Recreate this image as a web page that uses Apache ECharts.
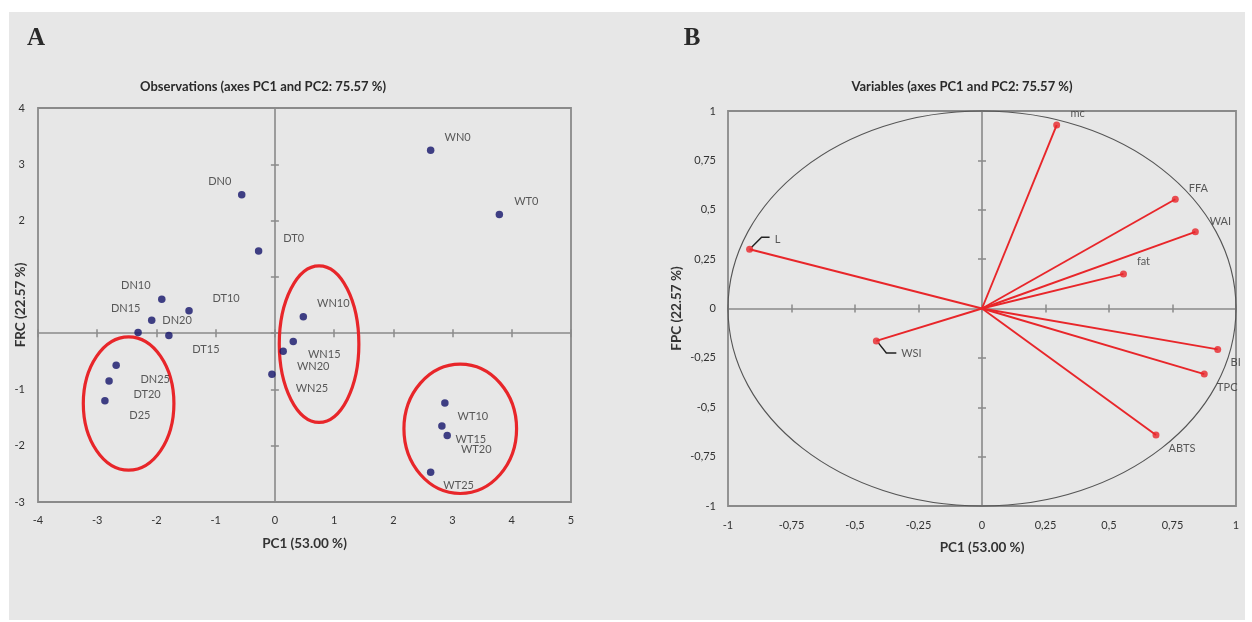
<!DOCTYPE html>
<html><head><meta charset="utf-8">
<script src="https://cdn.jsdelivr.net/npm/echarts@6/dist/echarts.min.js"></script>
<style>html,body{margin:0;padding:0;background:#fff;}#c{width:1252px;height:622px;}</style>
</head><body><div id="c"></div>
<script>
// ---------- Panel A: observations ----------
const obsNames = ['DN0','DT0','WN0','WT0','DN10','DT10','WN10','WT10','DN15','DT15','WN15','WT15','DN20','DT20','WN20','WT20','DN25','D25','WN25','WT25'];
const obsPC1 = [-0.56,-0.275,2.63,3.79,-1.91,-1.45,0.48,2.87,-2.08,-1.79,0.31,2.82,-2.31,-2.80,0.14,2.91,-2.68,-2.87,-0.05,2.63];
const obsPC2 = [2.46,1.46,3.25,2.11,0.60,0.40,0.29,-1.24,0.23,-0.04,-0.15,-1.65,0.01,-0.85,-0.32,-1.82,-0.57,-1.20,-0.73,-2.47];
const obsXTicks = ['-4','-3','-2','-1','0','1','2','3','4','5'];
const obsYTicks = ['-3','-2','-1','','','2','3','4'];
// cluster ellipses (data units)
const clusterCx = [-2.47, 0.746, 3.13];
const clusterCy = [-1.25, -0.195, -1.70];
const clusterRx = [0.765, 0.672, 0.951];
const clusterRy = [1.185, 1.39, 1.149];

// ---------- Panel B: variables ----------
const varNames = ['mc','FFA','WAI','fat','L','WSI','BI','TPC','ABTS'];
const varPC1 = [0.294,0.761,0.840,0.557,-0.915,-0.416,0.928,0.875,0.685];
const varPC2 = [0.929,0.553,0.388,0.175,0.300,-0.164,-0.207,-0.332,-0.641];
const varTicks = ['-1','-0,75','-0,5','-0,25','0','0,25','0,5','0,75','1'];

// ---------- label placement (pixel offsets, style only) ----------
const obsLabelOffset = [[-22,-13],[35,-13],[27,-13],[27,-13],[-26,-14],[37,-12],[30,-13],[28,14],[-26,-12],[37,14],[31,13],[29,13],[39,-12],[38,13],[30,15],[29,14],[39,14],[35,15],[40,14],[28,13]];
const varLabelOffset = [[21,-12],[23,-11],[25,-10],[20,-12],[28,-10],[35,13],[18,13],[23,13],[26,13]];
const varLeader = [null,null,null,null,[[2,-2],[12,-12],[20,-12]],[[2,2],[10,12],[20,12]],null,null,null];

const FONT = 'Lato, "Open Sans", sans-serif';
const AXC = '#8a8a8a';
const TXT = '#333333';
const RED = '#e8262a';

function labelAxis(dim, grid, min, max, interval, ticks, margin, name, nameGap) {
  return {type:'value', gridIndex:grid, min:min, max:max, interval:interval,
    position: dim==='x' ? 'bottom' : 'left',
    axisLine:{show:false, onZero:false}, axisTick:{show:false}, splitLine:{show:false},
    axisLabel:{margin:margin, color:TXT, fontSize:11, fontFamily:FONT,
      formatter: function(v){ return ticks[Math.round((v-min)/interval)]; }},
    name:name, nameLocation:'middle', nameGap:nameGap, nameMoveOverlap:false,
    nameTextStyle:{fontFamily:FONT, fontWeight:'bold', fontSize:13.5, color:'#333'}};
}
function zeroAxis(grid, min, max, interval, inside, lineOpacity, zeroIdx) {
  return {type:'value', gridIndex:grid, min:min, max:max, interval:interval,
    axisLine:{show:true, onZero:true, onZeroAxisIndex:zeroIdx, lineStyle:{color:AXC, width:1.6, opacity:lineOpacity}},
    axisTick:{show:true, inside:inside, length:4, lineStyle:{color:AXC, width:1.5}},
    axisLabel:{show:false}, splitLine:{show:false}};
}

const chart = echarts.init(document.getElementById('c'), null, {renderer:'canvas'});

const obsData = obsPC1.map(function(x,i){
  return {value:[x, obsPC2[i]], name:obsNames[i], label:{offset:obsLabelOffset[i]}};
});
const varData = varPC1.map(function(x,i){
  return {value:[x, varPC2[i]], name:varNames[i], label:{offset:varLabelOffset[i]}};
});
const clusterData = clusterCx.map(function(c,i){ return [c, clusterCy[i], clusterRx[i], clusterRy[i]]; });

const option = {
  animation:false,
  backgroundColor:'#ffffff',
  graphic:[
    {type:'rect', z:-100, shape:{x:9, y:12, width:1236, height:608}, style:{fill:'#e7e7e7'}},
    {type:'text', x:36, y:39, style:{text:'A', font:'bold 25px "Liberation Serif", serif', fill:'#2a2a2a', align:'center', verticalAlign:'middle'}},
    {type:'text', x:692, y:39, style:{text:'B', font:'bold 25px "Liberation Serif", serif', fill:'#2a2a2a', align:'center', verticalAlign:'middle'}},
    {type:'text', x:263, y:87, style:{text:'Observations (axes PC1 and PC2: 75.57 %)', font:'bold 13px Lato, sans-serif', fill:'#2a2a2a', align:'center', verticalAlign:'middle'}},
    {type:'text', x:962, y:87, style:{text:'Variables (axes PC1 and PC2: 75.57 %)', font:'bold 13px Lato, sans-serif', fill:'#2a2a2a', align:'center', verticalAlign:'middle'}}
  ],
  grid:[
    {left:38, top:108, width:533, height:394, show:true, borderColor:AXC, borderWidth:1.8, backgroundColor:'transparent'},
    {left:728, top:111, width:508, height:395, show:true, borderColor:AXC, borderWidth:1.8, backgroundColor:'transparent'}
  ],
  xAxis:[
    labelAxis('x',0,-4,5,1,obsXTicks,13,'PC1 (53.00 %)',35),
    zeroAxis(0,-4,5,1,true,1,0),
    zeroAxis(0,-4,5,1,false,0,0),
    labelAxis('x',1,-1,1,0.25,varTicks,14,'PC1 (53.00 %)',35),
    zeroAxis(1,-1,1,0.25,true,1,3),
    zeroAxis(1,-1,1,0.25,false,0,3)
  ],
  yAxis:[
    labelAxis('y',0,-3,4,1,obsYTicks,13,'FRC (22.57 %)',10),
    zeroAxis(0,-3,4,1,true,1,0),
    zeroAxis(0,-3,4,1,false,0,0),
    labelAxis('y',1,-1,1,0.25,varTicks,12,'FPC (22.57 %)',44),
    zeroAxis(1,-1,1,0.25,true,1,3),
    zeroAxis(1,-1,1,0.25,false,0,3)
  ],
  series:[
    {type:'custom', xAxisIndex:0, yAxisIndex:0, z:2, data:clusterData,
      renderItem:function(params, api){
        var c = api.coord([api.value(0), api.value(1)]);
        var s = api.size([api.value(2), api.value(3)], [api.value(0), api.value(1)]);
        return {type:'ellipse', shape:{cx:c[0], cy:c[1], rx:s[0], ry:s[1]},
          style:{fill:'none', stroke:RED, lineWidth:3.2}};
      }},
    {type:'scatter', xAxisIndex:0, yAxisIndex:0, z:3, data:obsData, symbolSize:7.5,
      itemStyle:{color:'#14146a'},
      label:{show:true, position:'inside', formatter:'{b}', color:TXT, fontSize:11, fontFamily:FONT}},
    {type:'custom', xAxisIndex:3, yAxisIndex:3, z:2, data:[[0,0,1,1]],
      renderItem:function(params, api){
        var c = api.coord([api.value(0), api.value(1)]);
        var s = api.size([api.value(2), api.value(3)], [api.value(0), api.value(1)]);
        return {type:'ellipse', shape:{cx:c[0], cy:c[1], rx:s[0], ry:s[1]},
          style:{fill:'none', stroke:'#555', lineWidth:1.1}};
      }},
    {type:'custom', xAxisIndex:3, yAxisIndex:3, z:3, data:varPC1.map(function(x,i){return [x, varPC2[i]];}),
      renderItem:function(params, api){
        var o = api.coord([0,0]);
        var p = api.coord([api.value(0), api.value(1)]);
        return {type:'line', shape:{x1:o[0], y1:o[1], x2:p[0], y2:p[1]},
          style:{stroke:RED, lineWidth:1.9}};
      }},
    {type:'custom', xAxisIndex:3, yAxisIndex:3, z:3, data:varPC1.map(function(x,i){return [x, varPC2[i]];}),
      renderItem:function(params, api){
        var L = varLeader[params.dataIndex];
        if (!L) return null;
        var p = api.coord([api.value(0), api.value(1)]);
        return {type:'polyline', shape:{points:L.map(function(d){return [p[0]+d[0], p[1]+d[1]];})},
          style:{stroke:'#222', lineWidth:1.5, fill:'none'}};
      }},
    {type:'scatter', xAxisIndex:3, yAxisIndex:3, z:4, data:varData, symbolSize:7,
      itemStyle:{color:RED},
      label:{show:true, position:'inside', formatter:'{b}', color:TXT, fontSize:11, fontFamily:FONT}}
  ]
};
chart.setOption(option);
</script></body></html>
